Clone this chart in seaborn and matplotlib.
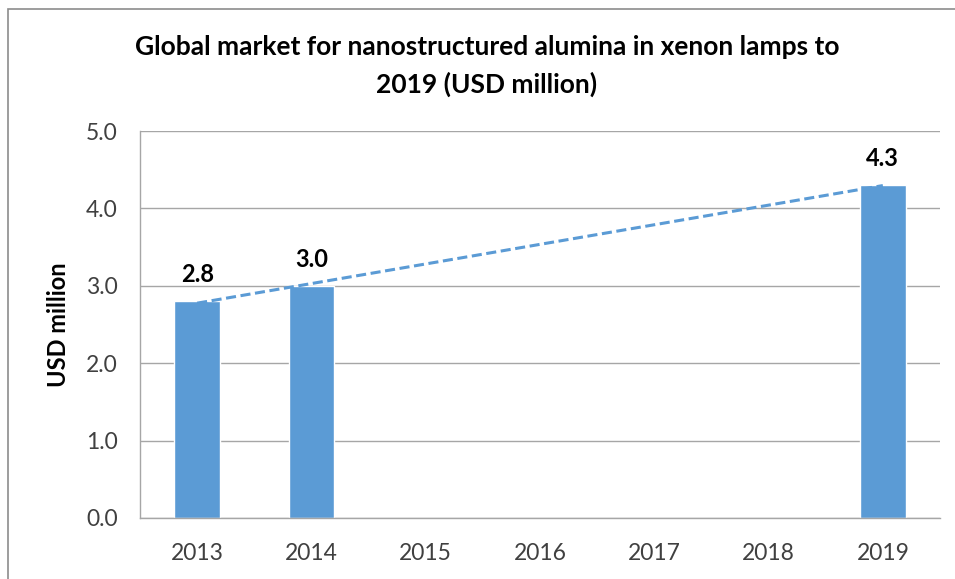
import numpy as np
import pandas as pd
import matplotlib
matplotlib.use("Agg")
import matplotlib.pyplot as plt
from matplotlib.patches import Rectangle
import seaborn as sns

years = ["2013", "2014", "2015", "2016", "2017", "2018", "2019"]
bar_years = ["2013", "2014", "2019"]
bar_values = [2.8, 3.0, 4.3]
yticks = [0.0, 1.0, 2.0, 3.0, 4.0, 5.0]
title = "Global market for nanostructured alumina in xenon lamps to\n2019 (USD million)"
ylabel = "USD million"

sns.set_theme(style="white")
plt.rcParams["font.family"] = ["Lato", "DejaVu Sans"]

BLUE = "#5B9BD5"
GRID = "#A6A6A6"

fig = plt.figure(figsize=(9.55, 5.79), dpi=100)
ax = fig.add_axes([140 / 955, 1 - 518 / 579, 800 / 955, (518 - 131) / 579])

df = pd.DataFrame({"year": bar_years, "value": bar_values})
sns.barplot(data=df, x="year", y="value", order=years, color=BLUE,
            saturation=1, width=0.4, ax=ax, errorbar=None)

# linear trend line through the bar values (Excel-style)
pos = np.array([years.index(y) for y in bar_years], dtype=float)
coef = np.polyfit(pos, bar_values, 1)
xs = np.arange(len(years), dtype=float)
ax.plot(xs, np.polyval(coef, xs), color=BLUE, lw=2.2, dashes=(3.3, 1.5),
        zorder=4)

ax.bar_label(ax.containers[0], fmt="%.1f", padding=11, fontsize=17,
             fontweight="bold", color="black")

ax.set_ylim(0, 5)
ax.set_xlim(-0.5, len(years) - 0.5)
ax.set_yticks(yticks)
ax.set_yticklabels([f"{v:.1f}" for v in yticks])
ax.yaxis.grid(True, color=GRID, lw=1)
ax.set_axisbelow(True)
for s in ["top", "right"]:
    ax.spines[s].set_visible(False)
for s in ["left", "bottom"]:
    ax.spines[s].set_color(GRID)
    ax.spines[s].set_linewidth(1)
ax.tick_params(axis="y", length=0, pad=16, labelsize=16.5, labelcolor="#404040")
ax.tick_params(axis="x", length=0, pad=18, labelsize=16.5, labelcolor="#404040")
ax.set_xlabel("")
ax.set_ylabel(ylabel, fontsize=17, fontweight="bold", color="black", va="center")
ax.yaxis.set_label_coords((59 - 140) / 800, 0.5)

fig.text(487 / 955, 1 - 66 / 579, title, ha="center", va="center",
         fontsize=19, fontweight="bold", color="black", linespacing=1.62)

fig.patches.append(Rectangle((8 / 955, -0.1), 1.0, 1 - 9 / 579 + 0.1,
                             transform=fig.transFigure, fill=False,
                             edgecolor="#8C8C8C", lw=1.2))

fig.savefig("out.png", dpi=100)
